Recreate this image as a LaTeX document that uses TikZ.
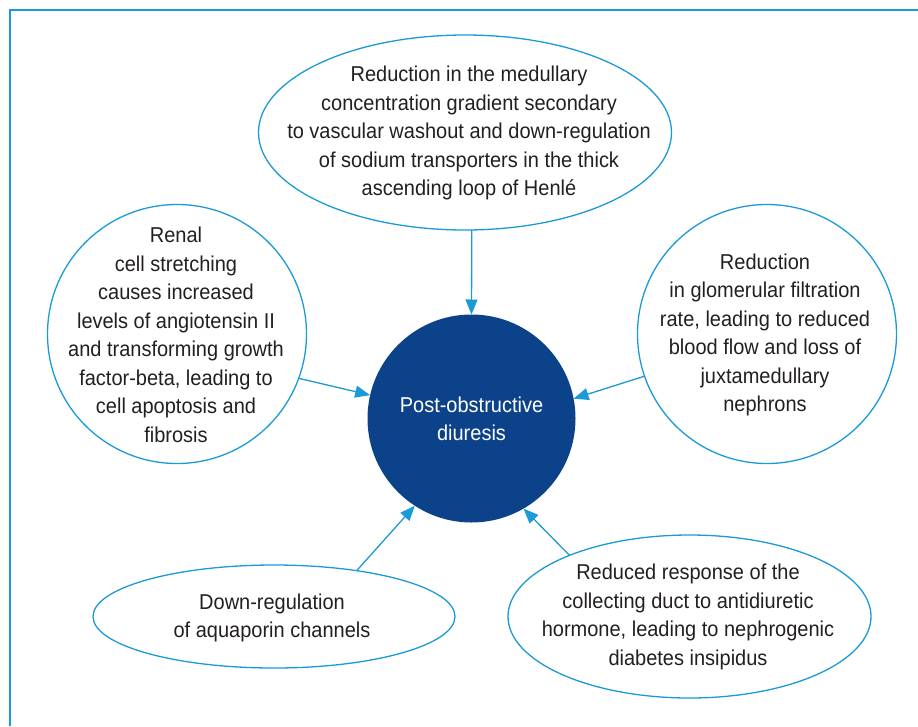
\documentclass[tikz,border=0pt]{standalone}
\usepackage{fontspec}
\setmainfont{Liberation Sans}[FakeStretch=0.93]
\usetikzlibrary{arrows.meta,shapes.geometric}
\definecolor{cyanline}{HTML}{1A9AD6}
\definecolor{navyfill}{HTML}{0B428A}
\definecolor{inktext}{HTML}{231F20}

\begin{document}
\begin{tikzpicture}[x=1pt,y=-1pt,
  bubble/.style={draw=cyanline, line width=1.3pt, inner sep=0pt, outer sep=0pt},
  roundbub/.style={bubble, circle, minimum size=#1},
  ovalbub/.style={bubble, ellipse},
  caption/.style={text=inktext, align=center, inner sep=0pt,
    font=\fontsize{21.5}{28.5}\selectfont},
  feed/.style={draw=cyanline, line width=1.3pt,
    -{Triangle[length=15pt,width=12pt]}}
]
\useasboundingbox (0,0) rectangle (918,726);

% open frame: left and top edges only
\draw[cyanline, line width=2pt] (10,726) -- (10,10) -- (918,10);

% central outcome
\node[circle, fill=navyfill, minimum size=208pt, inner sep=0pt, outer sep=0pt]
  (hub) at (471.5,418.5) {};
\node[caption, text=white] (hubText) at (471.5,419)
  {Post-obstructive\\diuresis};

% contributing mechanisms
\node[ovalbub, minimum width=413pt, minimum height=195pt] (top) at (465,132.5) {};
\node[caption] (topText) at (469,133)
  {Reduction in the medullary\\concentration gradient secondary\\to vascular washout and down-regulation\\of sodium transporters in the thick\\ascending loop of Henlé};

\node[roundbub=259pt] (lc) at (177,334) {};
\node[caption] (lcText) at (176,335)
  {Renal\\cell stretching\\causes increased\\levels of angiotensin II\\and transforming growth\\factor-beta, leading to\\cell apoptosis and\\fibrosis};

\node[roundbub=259pt] (rc) at (767,334) {};
\node[caption] (rcText) at (765,335)
  {Reduction\\in glomerular filtration\\rate, leading to reduced\\blood flow and loss of\\juxtamedullary\\nephrons};

\node[ovalbub, minimum width=362pt, minimum height=103pt] (bl) at (274,616.5) {};
\node[caption] (blText) at (272,618)
  {Down-regulation\\of aquaporin channels};

\node[ovalbub, minimum width=363pt, minimum height=163pt] (br) at (689.5,616.5) {};
\node[caption] (brText) at (688,617)
  {Reduced response of the\\collecting duct to antidiuretic\\hormone, leading to nephrogenic\\diabetes insipidus};

% arrows into the central outcome
\draw[feed] (top.274) -- (hub.north);
\draw[feed] (lc.340.7) -- (hub.167);
\draw[feed] (rc.199.8) -- (hub.11.8);
\draw[feed] (bl.29.9) -- (hub.237.4);
\draw[feed] (br.153.2) -- (hub.300);
\end{tikzpicture}
\end{document}
